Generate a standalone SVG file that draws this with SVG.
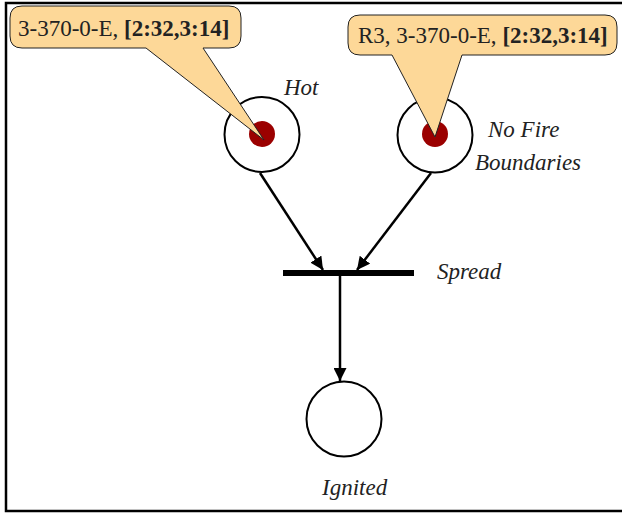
<svg xmlns="http://www.w3.org/2000/svg" width="622" height="516" viewBox="0 0 622 516">
<style>
.place{fill:#fff;stroke:#000;stroke-width:2}
.token{fill:#9b0000}
.lbl{font-family:"Liberation Serif",serif;font-style:italic;font-size:23px;fill:#222}
.ctext{font-family:"Liberation Serif",serif;font-size:23px;fill:#222}
.callout{fill:#fdd898;stroke:#222;stroke-width:1}
.arc{stroke:#000;stroke-width:2.5;fill:none;marker-end:url(#ah)}
</style>
<defs>
<marker id="ah" viewBox="0 0 13 13" refX="13" refY="6.5" markerWidth="13" markerHeight="13" markerUnits="userSpaceOnUse" orient="auto">
<path d="M0,0 L13,6.5 L0,13 Z" fill="#000"/>
</marker>
</defs>
<rect x="6" y="3" width="630" height="508" fill="#fff" stroke="#000" stroke-width="2.5"/>
<g id="connectors">
<line class="arc" x1="260" y1="173" x2="323" y2="270"/>
<line class="arc" x1="431" y1="173" x2="357" y2="270"/>
<line class="arc" x1="340" y1="276" x2="340" y2="381"/>
</g>
<g id="hot">
<circle class="place" cx="262" cy="134.5" r="37.5"/>
<circle class="token" cx="262" cy="134" r="13"/>
<text class="lbl" x="284" y="95">Hot</text>
</g>
<g id="nofire">
<circle class="place" cx="435" cy="135" r="37.5"/>
<circle class="token" cx="435" cy="134" r="13"/>
<text class="lbl" x="488" y="137">No Fire</text>
<text class="lbl" x="475" y="170">Boundaries</text>
</g>
<g id="spread">
<rect x="283" y="270" width="131" height="6" fill="#000"/>
<text class="lbl" x="437" y="279">Spread</text>
</g>
<g id="ignited">
<circle class="place" cx="344" cy="419" r="37.5"/>
<text class="lbl" x="322" y="495">Ignited</text>
</g>
<g id="callout1">
<path class="callout" d="M22,6 H229 Q241,6 241,18 V36 Q241,48 229,48 H203 L264,140 L146,48 H22 Q10,48 10,36 V18 Q10,6 22,6 Z"/>
<text class="ctext" x="18" y="36">3-370-0-E, <tspan font-weight="bold">[2:32,3:14]</tspan></text>
</g>
<g id="callout2">
<path class="callout" d="M360,15 H605 Q617,15 617,27 V43 Q617,55 605,55 H462 L435,137 L392,55 H360 Q348,55 348,43 V27 Q348,15 360,15 Z"/>
<text class="ctext" x="358" y="43">R3, 3-370-0-E, <tspan font-weight="bold">[2:32,3:14]</tspan></text>
</g>
</svg>
